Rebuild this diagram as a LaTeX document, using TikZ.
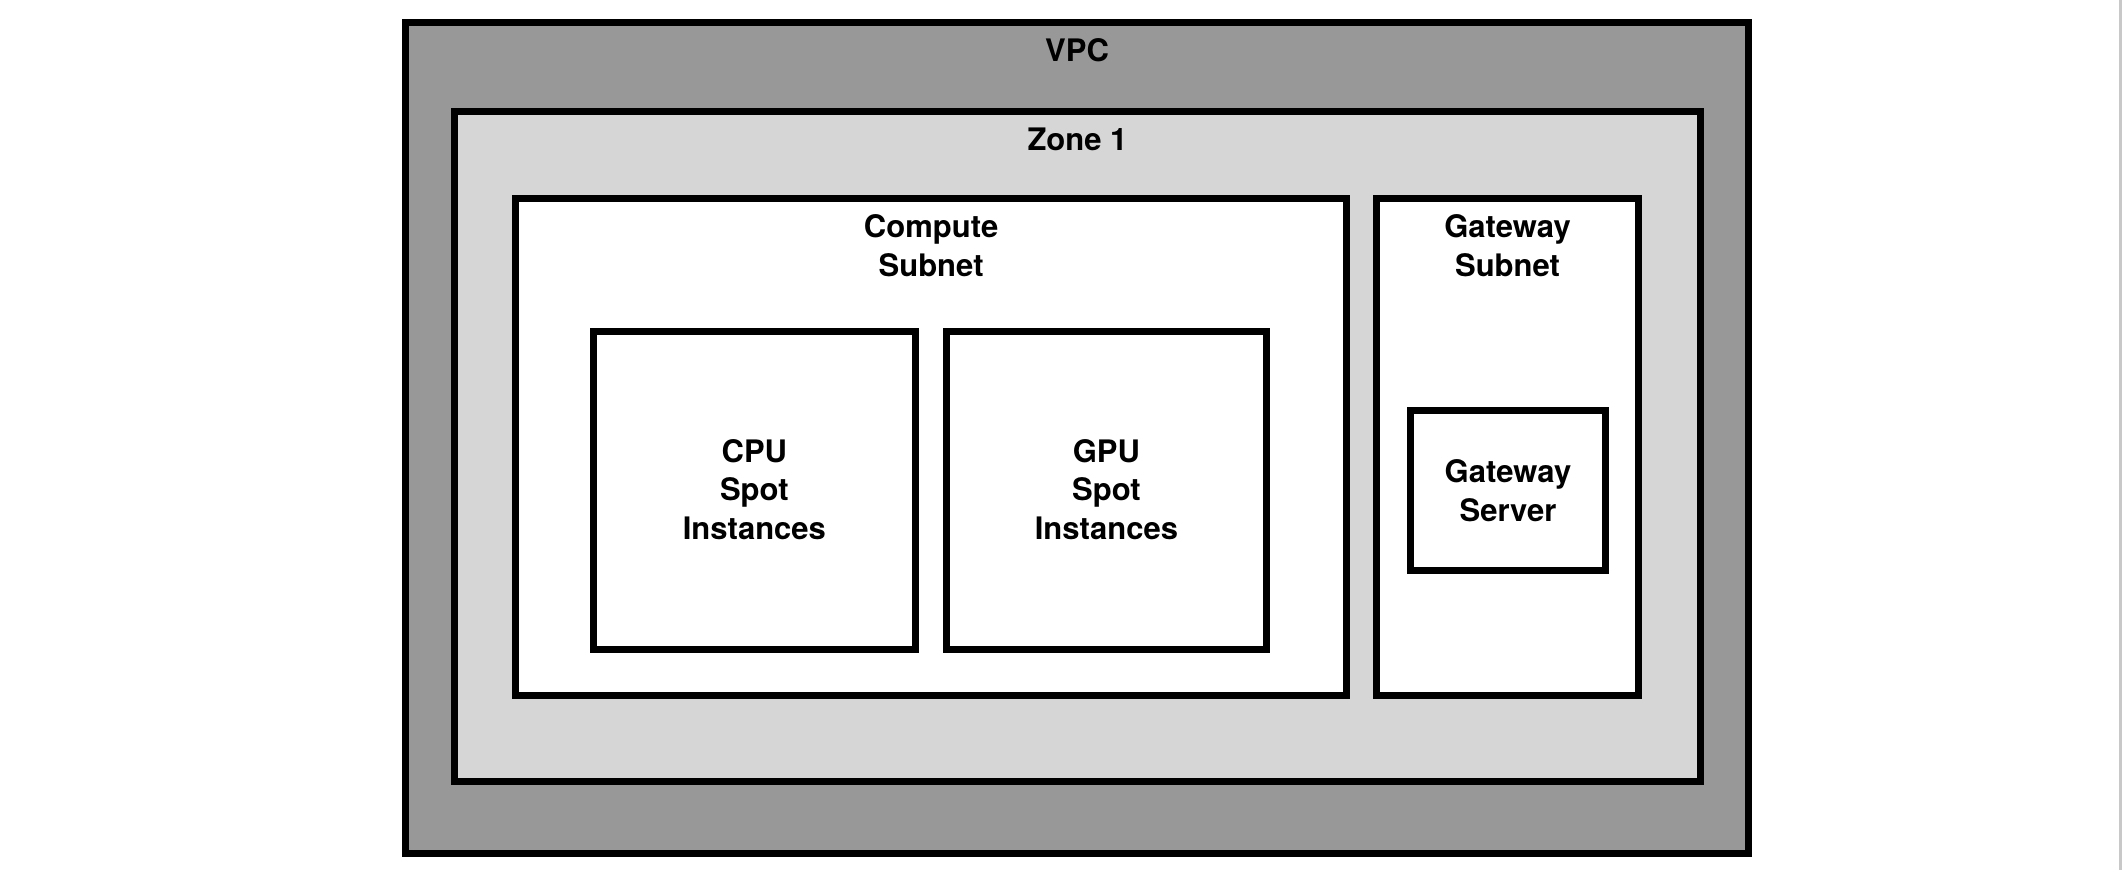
\documentclass[tikz,border=0pt]{standalone}
\usepackage{fontspec}
\setmainfont{TeX Gyre Heros}
\usepackage{tikz}
\usetikzlibrary{fit}
\definecolor{vpcgray}{RGB}{152,152,152}
\definecolor{zonegray}{RGB}{214,214,214}
\definecolor{edgegray}{RGB}{200,200,200}
\tikzset{
  box/.style={draw=black, line width=3.5pt, inner sep=0pt, outer sep=0pt},
  title/.style={anchor=base, align=center, inner sep=0pt,
    font=\fontsize{15.5}{19.25}\selectfont\bfseries}
}

\begin{document}
\begin{tikzpicture}[x=0.5pt, y=-0.5pt]
    \useasboundingbox (0,0) rectangle (2122,870);
    \fill [white] (0,0) rectangle (2122,870);
    \fill [edgegray] (2119,0) rectangle (2122,870);

    % nested boxes
    \node [box, fill=vpcgray, fit={(405.6,22.5) (1748.5,853.3)}] (vpc) {};
    \node [box, fill=zonegray, fit={(454.5,111.3) (1700.5,781.3)}] (zone) {};
    \node [box, fill=white, fit={(515.5,198.7) (1346.7,695.5)}] (compute) {};
    \node [box, fill=white, fit={(1376.7,198.7) (1638.4,695.5)}] (gwsubnet) {};
    \node [box, fill=white, fit={(593.5,331.7) (915.2,649.3)}] (cpu) {};
    \node [box, fill=white, fit={(946.2,331.7) (1266.7,649.3)}] (gpu) {};
    \node [box, fill=white, fit={(1410.7,410.7) (1605.3,570.3)}] (gwserver) {};

    % titles (base = last line)
    \node [title] (vpclabel) at ([yshift=-19.65pt]vpc.north) {VPC};
    \node [title] (zonelabel) at ([yshift=-19.65pt]zone.north) {Zone 1};
    \node [title] (computelabel) at ([yshift=-38.9pt]compute.north) {Compute\\Subnet};
    \node [title] (gwsubnetlabel) at ([yshift=-38.9pt]gwsubnet.north) {Gateway\\Subnet};
    \node [title] (cpulabel) at ([yshift=-24.5pt]cpu.center) {CPU\\Spot\\Instances};
    \node [title] (gpulabel) at ([yshift=-24.5pt]gpu.center) {GPU\\Spot\\Instances};
    \node [title] (gwserverlabel) at ([yshift=-15.5pt]gwserver.center) {Gateway\\Server};
\end{tikzpicture}
\end{document}
